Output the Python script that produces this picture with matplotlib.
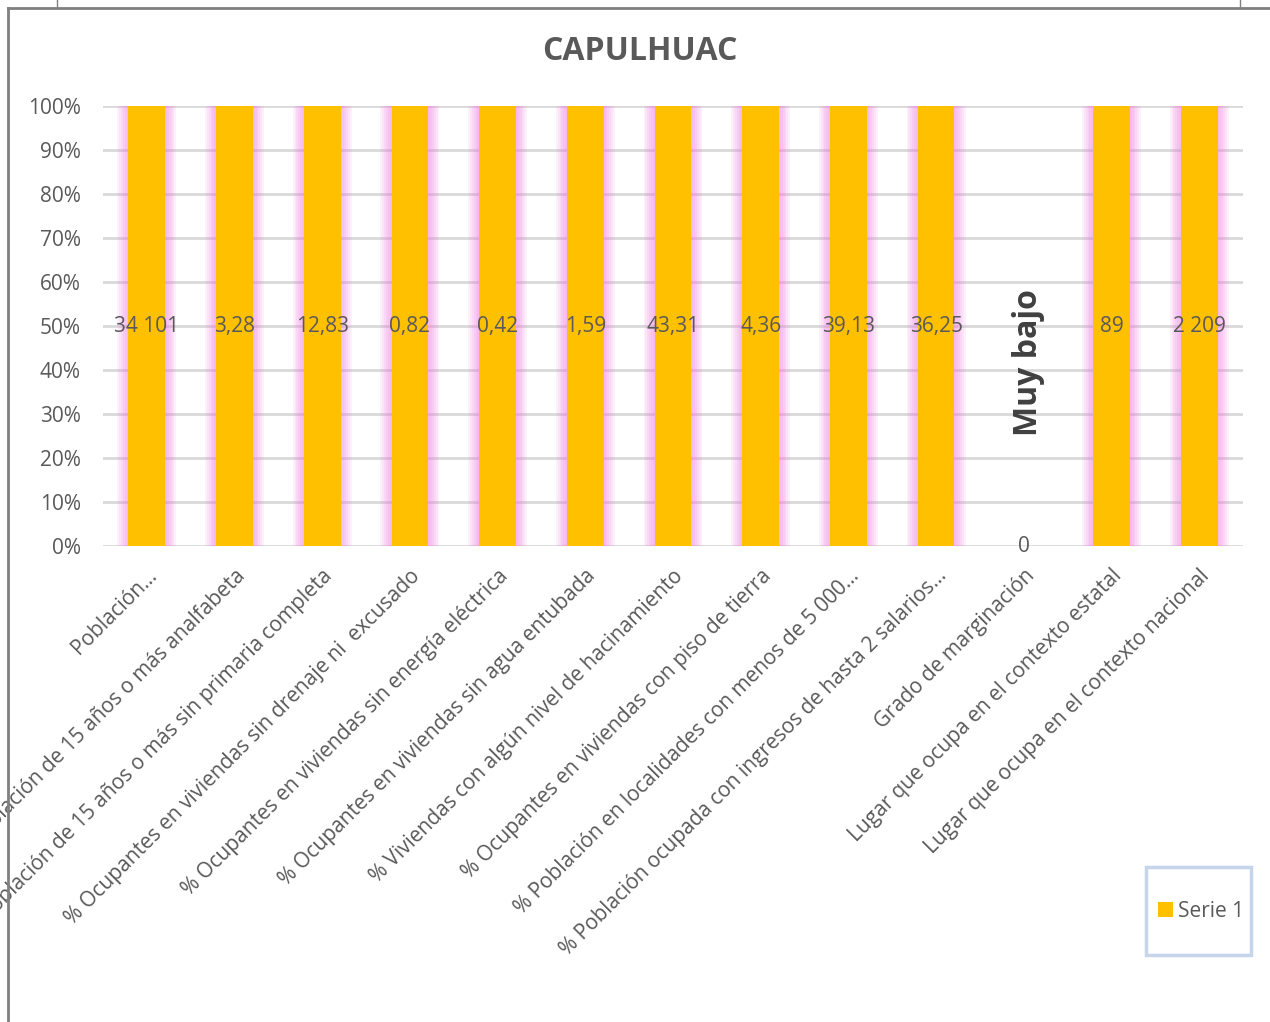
import numpy as np
import matplotlib
matplotlib.use("Agg")
import matplotlib.pyplot as plt
from matplotlib.patches import Rectangle
from matplotlib.lines import Line2D

categories = [
    "Población total",
    "% Población de 15 años o más analfabeta",
    "% Población de 15 años o más sin primaria completa",
    "% Ocupantes en viviendas sin drenaje ni  excusado",
    "% Ocupantes en viviendas sin energía eléctrica",
    "% Ocupantes en viviendas sin agua entubada",
    "% Viviendas con algún nivel de hacinamiento",
    "% Ocupantes en viviendas con piso de tierra",
    "% Población en localidades con menos de 5 000...",
    "% Población ocupada con ingresos de hasta 2 salarios...",
    "Grado de marginación",
    "Lugar que ocupa en el contexto estatal",
    "Lugar que ocupa en el contexto nacional",
]
tick_labels = ["Población..."] + categories[1:]
values = [34101, 3.28, 12.83, 0.82, 0.42, 1.59, 43.31, 4.36, 39.13, 36.25, 0, 89, 2209]
grado_text = "Muy bajo"
title = "CAPULHUAC"
series_name = "Serie 1"

def fmt(v):
    # spanish style: space for thousands, comma for decimals
    if float(v).is_integer():
        return f"{int(v):,}".replace(",", " ")
    return f"{v:.2f}".replace(".", ",")

vals = np.array(values, dtype=float)
pct = np.where(vals > 0, 100.0, 0.0)  # 100% stacked, single series

gray = "#595959"
orange = "#FFC000"
plt.rcParams['font.family'] = ['Open Sans', 'DejaVu Sans']

fig = plt.figure(figsize=(12.7, 10.22), dpi=100)
ax = fig.add_axes([103/1270, 1-546/1022, 1140/1270, 440/1022])

x = np.arange(len(categories))
w = 0.42
# soft pink glow around bars
for k in range(6, 0, -1):
    ax.bar(x, pct, width=w + k*0.042, color="#f07ae0", alpha=0.11, linewidth=0, zorder=2)
ax.bar(x, pct, width=w, color=orange, linewidth=0, zorder=3, label=series_name)

for xi, v, p in zip(x, vals, pct):
    ax.text(xi, p/2 if p > 0 else 0, fmt(v), ha="center", va="center",
            fontsize=15, color=gray, zorder=4)

ax.text(10.05, 41.8, grado_text, rotation=90, ha="center", va="center",
        fontsize=23, fontweight="bold", color="#404040", zorder=4)

ax.set_xlim(-0.5, len(categories) - 0.5)
ax.set_ylim(0, 100)
ax.set_yticks(np.arange(0, 101, 10))
ax.set_yticklabels([f"{t}%" for t in range(0, 101, 10)], fontsize=15, color=gray)
ax.grid(axis="y", color="#d9d9d9", linewidth=2, zorder=0)
ax.set_axisbelow(True)
for s in ax.spines.values():
    s.set_visible(False)
ax.tick_params(axis="both", length=0)
ax.tick_params(axis="y", pad=16)
ax.set_xticks(x)
ax.set_xticklabels(tick_labels, rotation=45, ha="right", rotation_mode="anchor",
                   fontsize=15, color=gray)
ax.tick_params(axis="x", pad=14)

fig.text(640/1270, 1-52/1022, title, ha="center", va="center",
         fontsize=23, fontweight="bold", color=gray)

# legend box
fig.patches.append(Rectangle((1146/1270, 1-955/1022), 105/1270, 88/1022,
                             transform=fig.transFigure, fill=False,
                             edgecolor="#c6d6ea", linewidth=2.5))
fig.legend(loc="center", bbox_to_anchor=(1201/1270, 1-911/1022), frameon=False,
           fontsize=15, labelcolor=gray, handlelength=0.75, handleheight=0.75,
           handletextpad=0.25)

# outer frame of the chart
fc = "#808080"
fig.add_artist(Line2D([8/1270, 1], [1-8/1022, 1-8/1022], color=fc, linewidth=2))
fig.add_artist(Line2D([8/1270, 8/1270], [0, 1-8/1022], color=fc, linewidth=2))
fig.add_artist(Line2D([57/1270, 57/1270], [1-8/1022, 1], color=fc, linewidth=1))
fig.add_artist(Line2D([1240/1270, 1240/1270], [1-8/1022, 1], color=fc, linewidth=1))

fig.savefig("out.png", dpi=100)
